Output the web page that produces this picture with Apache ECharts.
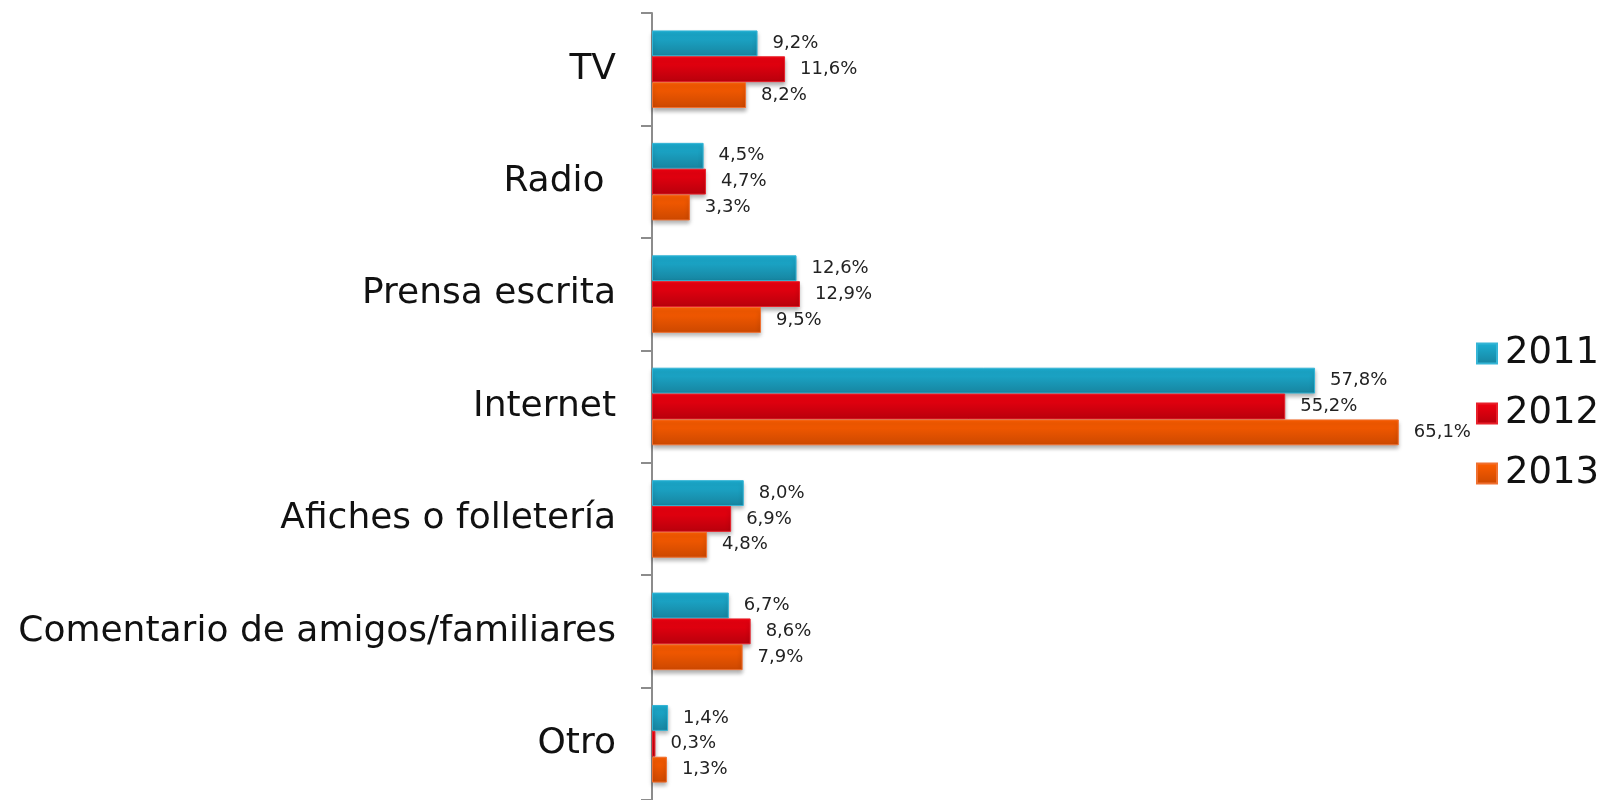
<!DOCTYPE html>
<html>
<head>
<meta charset="utf-8">
<script src="https://cdn.jsdelivr.net/npm/echarts@6/dist/echarts.min.js"></script>
<style>
    html, body { margin: 0; padding: 0; background: #fff; }
    #chart { width: 1615px; height: 800px; }
</style>
</head>
<body>
<div id="chart"></div>
<script>
// medios por los que se enteraron - barras horizontales
const categories = ['TV', 'Radio ', 'Prensa escrita', 'Internet', 'Afiches o folletería', 'Comentario de amigos/familiares', 'Otro'];
const years = ['2011', '2012', '2013'];
const values2011 = [9.2, 4.5, 12.6, 57.8, 8.0, 6.7, 1.4];
const values2012 = [11.6, 4.7, 12.9, 55.2, 6.9, 8.6, 0.3];
const values2013 = [8.2, 3.3, 9.5, 65.1, 4.8, 7.9, 1.3];

const fontFamily = 'DejaVu Sans';

function grad(top, bottom) {
    return {
        type: 'linear', x: 0, y: 0, x2: 0, y2: 1,
        colorStops: [
            { offset: 0, color: top },
            { offset: 1, color: bottom }
        ]
    };
}

function makeSeries(name, data, top, bottom, border) {
    return {
        name: name,
        type: 'bar',
        data: data,
        barGap: '0%',
        barCategoryGap: '31%',
        itemStyle: {
            color: grad(top, bottom),
            borderColor: border,
            borderWidth: 1,
            shadowColor: 'rgba(0, 0, 0, 0.3)',
            shadowBlur: 4,
            shadowOffsetY: 3
        },
        label: {
            show: true,
            position: 'right',
            distance: 15,
            color: '#222',
            fontFamily: fontFamily,
            fontSize: 18,
            formatter: p => p.value.toFixed(1).replace('.', ',') + '%'
        }
    };
}

const chart = echarts.init(document.getElementById('chart'));
chart.setOption({
    animation: false,
    grid: {
        left: 652,
        right: 160,
        top: 13,
        bottom: 0
    },
    legend: {
        orient: 'vertical',
        left: 1471,
        top: 330,
        icon: 'rect',
        itemWidth: 20,
        itemHeight: 20,
        itemGap: 23,
        textStyle: { fontFamily: fontFamily, fontSize: 37, color: '#111', padding: [0, 0, 0, 3] },
        data: years
    },
    xAxis: {
        type: 'value',
        min: 0,
        max: 70,
        show: false
    },
    yAxis: {
        type: 'category',
        inverse: true,
        data: categories,
        axisLine: { show: true, lineStyle: { color: '#8c8c8c', width: 2 } },
        axisTick: { show: true, length: 11, lineStyle: { color: '#8c8c8c', width: 2 } },
        axisLabel: {
            margin: 36,
            color: '#111',
            fontFamily: fontFamily,
            fontSize: 36
        }
    },
    series: [
        makeSeries('2011', values2011, '#1cb0d4', '#17849f', '#35b5d6'),
        makeSeries('2012', values2012, '#f20010', '#b8000c', '#e8202a'),
        makeSeries('2013', values2013, '#ff5e00', '#cc4800', '#f07030')
    ]
});
</script>
</body>
</html>
